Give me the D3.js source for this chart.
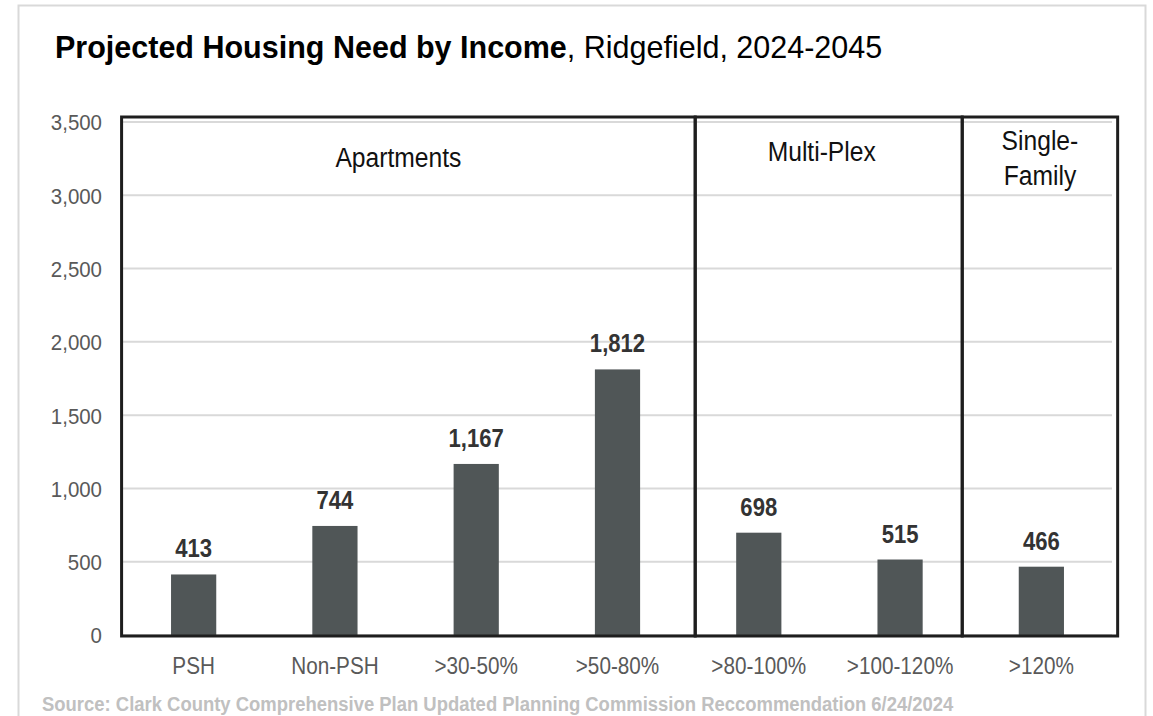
<!DOCTYPE html>
<html>
<head>
<meta charset="utf-8">
<script src="https://cdn.jsdelivr.net/npm/d3@7"></script>
<style>
  body { margin: 0; background: #fff; }
  text { font-family: "Liberation Sans", Arial, sans-serif; }
</style>
</head>
<body>
<div id="chart"></div>
<script>
// Canvas size
var width = 1153;
var height = 716;

// Data
var categories = ["PSH", "Non-PSH", ">30-50%", ">50-80%", ">80-100%", ">100-120%", ">120%"];
var values = [413, 744, 1167, 1812, 698, 515, 466];
var yTicks = [0, 500, 1000, 1500, 2000, 2500, 3000, 3500];
var groupNames = [["Apartments"], ["Multi-Plex"], ["Single-", "Family"]];
var groupFirst = [0, 4, 6];
var groupLast = [3, 5, 6];

var margin = { left: 123, right: 1112, top: 122, bottom: 635 };

// the chart's text is a narrow face; squeeze Liberation Sans to mimic it
function squeeze(sx) { return "scale(" + sx + ",1)"; }
function place(x, y, sx) { return "translate(" + x + "," + y + ") scale(" + sx + ",1)"; }

function createSVG() {
  return d3.select("#chart")
    .append("svg")
    .attr("width", width)
    .attr("height", height);
}

function main() {
  var svg = createSVG();

  // outer light frame
  svg.append("rect")
    .attr("x", 18.5).attr("y", 5.5)
    .attr("width", 1127).attr("height", 720)
    .attr("fill", "none")
    .attr("stroke", "#d9d9d9")
    .attr("stroke-width", 2);

  // title
  var title = svg.append("text")
    .attr("x", 55).attr("y", 58)
    .style("font-size", "30.5px")
    .attr("fill", "#000");
  title.append("tspan").style("font-weight", "bold").text("Projected Housing Need by Income");
  title.append("tspan").text(", Ridgefield, 2024-2045");

  var x = d3.scaleBand()
    .domain(categories)
    .range([margin.left, margin.right])
    .paddingInner(0.68)
    .paddingOuter(0.34);

  var y = d3.scaleLinear()
    .domain([0, 3500])
    .range([margin.bottom, margin.top]);

  // gridlines
  svg.append("g")
    .selectAll("line")
    .data(yTicks)
    .enter()
    .append("line")
    .attr("x1", margin.left).attr("x2", margin.right)
    .attr("y1", function(d) { return y(d); })
    .attr("y2", function(d) { return y(d); })
    .attr("stroke", "#d9d9d9")
    .attr("stroke-width", 2);

  // y axis labels
  var yAxis = svg.append("g")
    .attr("transform", "translate(" + (margin.left - 21) + ",0)")
    .call(d3.axisLeft(y).tickValues(yTicks).tickSize(0).tickPadding(0).tickFormat(d3.format(",")));
  yAxis.select(".domain").remove();
  yAxis.selectAll("text")
    .attr("fill", "#595959")
    .attr("dy", "0.36em")
    .attr("transform", squeeze(0.93))
    .style("font-size", "22px");

  // x axis labels
  var xAxis = svg.append("g")
    .attr("transform", "translate(0," + 674 + ")")
    .call(d3.axisBottom(x).tickSize(0).tickPadding(0));
  xAxis.select(".domain").remove();
  xAxis.selectAll("text")
    .attr("fill", "#595959")
    .attr("y", 0)
    .attr("dy", 0)
    .attr("transform", squeeze(0.9))
    .style("font-size", "23px");

  // bars
  svg.append("g")
    .selectAll("rect")
    .data(values)
    .enter()
    .append("rect")
    .attr("x", function(d, i) { return x(categories[i]); })
    .attr("y", function(d) { return y(d); })
    .attr("width", x.bandwidth())
    .attr("height", function(d) { return y(0) - y(d); })
    .attr("fill", "#505657");

  // value labels
  svg.append("g")
    .selectAll("text")
    .data(values)
    .enter()
    .append("text")
    .attr("transform", function(d, i) {
      return place(x(categories[i]) + x.bandwidth() / 2, y(d) - 17, 0.85);
    })
    .attr("text-anchor", "middle")
    .attr("fill", "#333")
    .style("font-weight", "bold")
    .style("font-size", "26px")
    .text(function(d) { return d3.format(",")(d); });

  // group boxes; dividers sit a little off the band edges, as in the original
  var step = x.step();
  var start = margin.left;
  var edgeOffsets = [-0.01, 0.05, -0.06, 0.04];
  var labelShift = [-10, -7, 0];
  var boxes = groupFirst.map(function(f, i) {
    var l = start + f * step + edgeOffsets[i] * step;
    var r = i < groupFirst.length - 1 ? start + groupFirst[i + 1] * step + edgeOffsets[i + 1] * step
                                      : start + (groupLast[i] + 1) * step + edgeOffsets[3] * step;
    return { l: l, r: r, names: groupNames[i], shift: labelShift[i] };
  });

  svg.append("g")
    .selectAll("rect")
    .data(boxes)
    .enter()
    .append("rect")
    .attr("x", function(d) { return d.l; })
    .attr("y", margin.top - 5)
    .attr("width", function(d) { return d.r - d.l; })
    .attr("height", margin.bottom - margin.top + 6)
    .attr("fill", "none")
    .attr("stroke", "#1e1e1e")
    .attr("stroke-width", 3);

  boxes.forEach(function(b, i) {
    var cx = (b.l + b.r) / 2 + b.shift;
    var lines = b.names;
    var t = svg.append("text")
      .attr("transform", place(cx, lines.length > 1 ? 150 : (i === 0 ? 167 : 161), 0.88))
      .attr("text-anchor", "middle")
      .attr("fill", "#111")
      .style("font-size", "28px");
    lines.forEach(function(s, k) {
      t.append("tspan").attr("x", 0).attr("dy", k === 0 ? 0 : 35).text(s);
    });
  });

  // source
  svg.append("text")
    .attr("transform", place(42, 711, 0.9))
    .attr("fill", "#c0c0c0")
    .style("font-weight", "bold")
    .style("font-size", "20.5px")
    .text("Source: Clark County Comprehensive Plan Updated Planning Commission Reccommendation 6/24/2024");
}

window.onload = function() { main(); };
</script>
</body>
</html>
